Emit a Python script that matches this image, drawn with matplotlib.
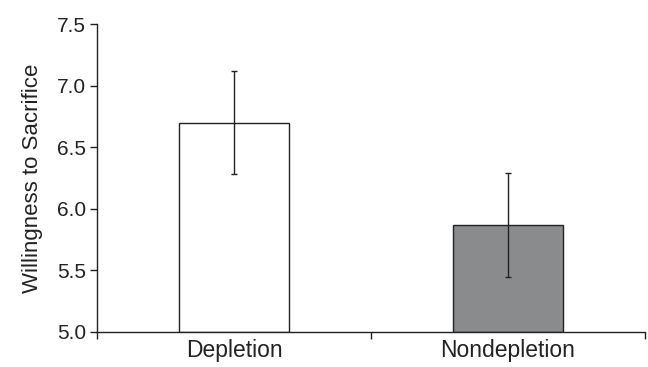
import matplotlib
matplotlib.use("Agg")
import matplotlib.pyplot as plt

categories = ["Depletion", "Nondepletion"]
means = [6.70, 5.87]
errors = [0.42, 0.42]
colors = ["#ffffff", "#8a8b8d"]
yticks = [5.0, 5.5, 6.0, 6.5, 7.0, 7.5]

plt.rcParams["font.family"] = ["Liberation Sans", "DejaVu Sans"]

fig = plt.figure(figsize=(6.48, 3.67), dpi=100)
ax = fig.add_axes([0.1497, 0.0954, 0.8453, 0.8392])

x = list(range(len(categories)))
ax.bar(x, [m - 5.0 for m in means], bottom=5.0, width=0.4, color=colors,
       edgecolor="#222222", linewidth=1.0, zorder=2)
ax.errorbar(x, means, yerr=errors, fmt="none", ecolor="#222222",
            elinewidth=1.0, capsize=2.5, capthick=1.0, zorder=3)

ax.set_xlim(-0.5, 1.5)
ax.set_ylim(5.0, 7.5)
ax.set_yticks(yticks)
ax.set_yticklabels([f"{v:.1f}" for v in yticks])
ax.set_xticks(x)
ax.set_xticklabels(categories)
ax.set_xticks([-0.5, 0.5, 1.5], minor=True)
ax.tick_params(axis="x", which="major", length=0, labelsize=16.5, pad=5, colors="#222222")
ax.tick_params(axis="x", which="minor", length=5, width=1.0, color="#222222")
ax.tick_params(axis="y", length=5, width=1.0, labelsize=15, colors="#222222", pad=3)
ax.spines["top"].set_visible(False)
ax.spines["right"].set_visible(False)
for s in ("left", "bottom"):
    ax.spines[s].set_linewidth(1.0)
    ax.spines[s].set_color("#222222")
ax.set_ylabel("Willingness to Sacrifice", fontsize=16, color="#222222", labelpad=10)

fig.savefig("out.png", dpi=100)
